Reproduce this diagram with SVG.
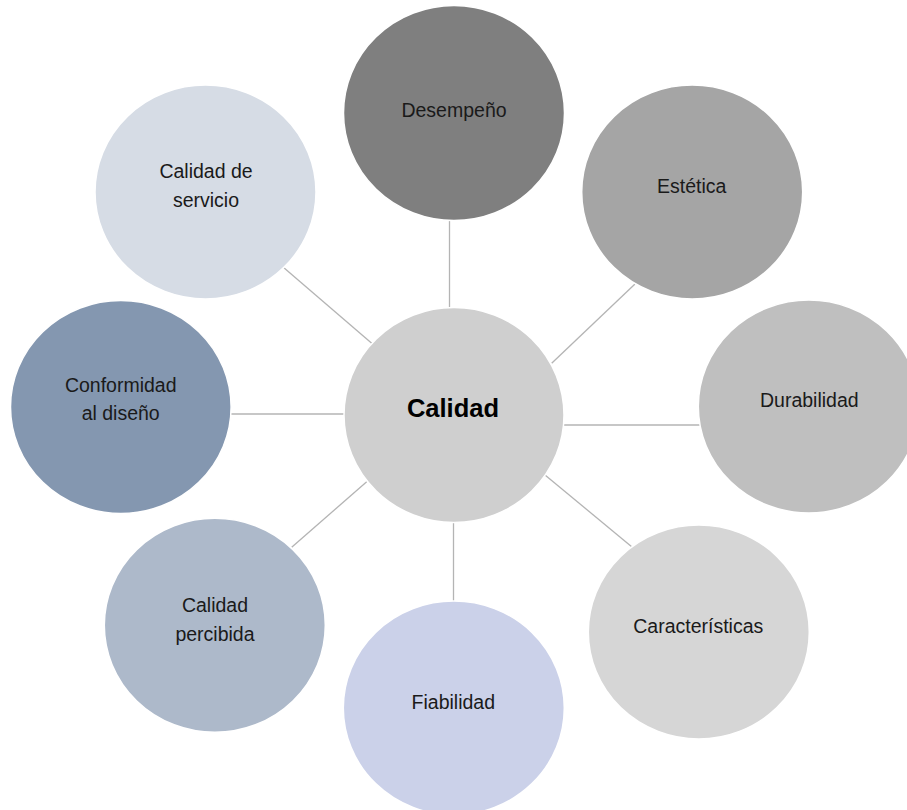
<svg xmlns="http://www.w3.org/2000/svg" width="907" height="810" viewBox="0 0 907 810">
  <style>
    .node { stroke: #ffffff; stroke-width: 1.5; }
    .lbl { font-family: "Liberation Sans", Arial, sans-serif; font-size: 19.5px; fill: #1a1a1a; text-anchor: middle; }
    .hub { font-family: "Liberation Sans", Arial, sans-serif; font-size: 25.5px; font-weight: bold; fill: #000000; text-anchor: middle; }
    .link { stroke: #b4b4b4; stroke-width: 1.3; fill: none; }
  </style>
  <rect width="907" height="810" fill="#ffffff"/>

  <!-- spokes from the hub to each dimension -->
  <g id="connectors">
    <line class="link" x1="449.5" y1="220" x2="449.5" y2="308"/>
    <line class="link" x1="551.7" y1="363.3" x2="635" y2="284"/>
    <line class="link" x1="563.5" y1="425" x2="700" y2="425"/>
    <line class="link" x1="545" y1="475" x2="631.7" y2="546.7"/>
    <line class="link" x1="453.5" y1="522" x2="453.5" y2="601"/>
    <line class="link" x1="291.7" y1="547.3" x2="366.7" y2="481.7"/>
    <line class="link" x1="231" y1="414" x2="344" y2="414"/>
    <line class="link" x1="282.7" y1="266.7" x2="371.7" y2="343.3"/>
  </g>

  <g id="hub">
    <ellipse class="node" cx="454" cy="415" rx="110" ry="107.5" fill="#cfcfcf"/>
    <text class="hub" x="453" y="416.7">Calidad</text>
  </g>

  <g id="desempeno">
    <ellipse class="node" cx="454" cy="113" rx="110.5" ry="107.5" fill="#7f7f7f"/>
    <text class="lbl" x="454" y="117">Desempeño</text>
  </g>

  <g id="estetica">
    <ellipse class="node" cx="692.2" cy="192" rx="110.5" ry="107" fill="#a5a5a5"/>
    <text class="lbl" x="691.7" y="192.7">Estética</text>
  </g>

  <g id="durabilidad">
    <ellipse class="node" cx="808.8" cy="406.5" rx="110.5" ry="106.5" fill="#bfbfbf"/>
    <text class="lbl" x="809.3" y="406.5">Durabilidad</text>
  </g>

  <g id="caracteristicas">
    <ellipse class="node" cx="698.8" cy="632" rx="110.5" ry="107" fill="#d6d6d6"/>
    <text class="lbl" x="698.3" y="633.3">Características</text>
  </g>

  <g id="fiabilidad">
    <ellipse class="node" cx="453.8" cy="708" rx="110.5" ry="107" fill="#cbd1e9"/>
    <text class="lbl" x="453.3" y="709.3">Fiabilidad</text>
  </g>

  <g id="calidad-percibida">
    <ellipse class="node" cx="214.8" cy="625.3" rx="110.5" ry="107" fill="#adb9ca"/>
    <text class="lbl" x="215" y="611.7">Calidad</text>
    <text class="lbl" x="215" y="641">percibida</text>
  </g>

  <g id="conformidad">
    <ellipse class="node" cx="120.8" cy="407" rx="110.3" ry="106.5" fill="#8497b0"/>
    <text class="lbl" x="120.7" y="391.7">Conformidad</text>
    <text class="lbl" x="120.7" y="420">al diseño</text>
  </g>

  <g id="calidad-servicio">
    <ellipse class="node" cx="205.5" cy="192" rx="110.5" ry="107" fill="#d6dce5"/>
    <text class="lbl" x="206" y="178.3">Calidad de</text>
    <text class="lbl" x="206" y="206.7">servicio</text>
  </g>
</svg>
